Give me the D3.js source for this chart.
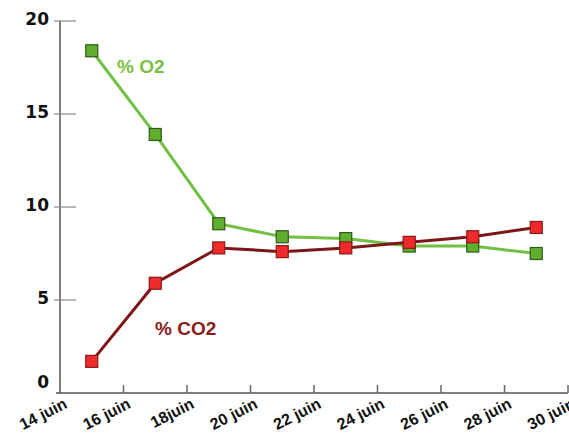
<!DOCTYPE html>
<html><head><meta charset="utf-8">
<script src="https://cdn.jsdelivr.net/npm/d3@7"></script>
<style>body{margin:0;background:#fff}svg{display:block}</style>
</head><body><svg id="c" width="569" height="438"></svg>
<script>
const days = [15,17,19,21,23,25,27,29];
const o2 = [18.4,13.9,9.1,8.4,8.3,7.9,7.9,7.5];
const co2 = [1.7,5.9,7.8,7.6,7.8,8.1,8.4,8.9];
const xTicks = [14,16,18,20,22,24,26,28,30];
const xTickLabels = ["14 juin","16 juin","18juin","20 juin","22 juin","24 juin","26 juin","28 juin","30 juin"];
const yTicks = [0,5,10,15,20];

const svg = d3.select("#c");
const x = d3.scaleLinear().domain([14,30]).range([60,568]);
const y = d3.scaleLinear().domain([0,20]).range([393,21]);
const font = "'DejaVu Sans', sans-serif";
const fontN = "'Liberation Sans', Arial, sans-serif";

// axes lines
svg.append("line").attr("x1",60).attr("x2",60).attr("y1",21).attr("y2",393).attr("stroke","#555").attr("stroke-width",1.5);
svg.append("line").attr("x1",56).attr("x2",568).attr("y1",393).attr("y2",393).attr("stroke","#555").attr("stroke-width",1.5);

// y ticks
const yg = svg.append("g");
yTicks.filter(d=>d>0).forEach(d=>{
  yg.append("line").attr("x1",54).attr("x2",76).attr("y1",y(d)).attr("y2",y(d)).attr("stroke","#888").attr("stroke-width",1.2);
});
yTicks.forEach(d=>{
  yg.append("text").attr("x",49).attr("y",y(d)+(d===0?-5:4)).attr("text-anchor","end")
    .attr("font-family",font).attr("font-weight","bold").attr("font-size",17).attr("fill","#111").text(d);
});

// x ticks
const xg = svg.append("g");
xTicks.slice(1).forEach(d=>{
  xg.append("line").attr("x1",x(d)).attr("x2",x(d)).attr("y1",385).attr("y2",393).attr("stroke","#666").attr("stroke-width",1.5);
});
xTicks.forEach((d,i)=>{
  xg.append("text").attr("transform",`translate(${x(d)+3},${397}) rotate(-27)`).attr("text-anchor","end")
    .attr("dy","0.72em")
    .attr("font-family",fontN).attr("font-weight","bold").attr("font-size",16).attr("fill","#111").text(xTickLabels[i]);
});

const line = d3.line().x((d,i)=>x(days[i])).y(d=>y(d));

function series(vals, lineColor, fill, stroke){
  svg.append("path").attr("d",line(vals)).attr("fill","none").attr("stroke",lineColor).attr("stroke-width",3);
  svg.selectAll(null).data(vals).enter().append("rect")
    .attr("x",(d,i)=>x(days[i])-6).attr("y",d=>y(d)-6).attr("width",12).attr("height",12)
    .attr("fill",fill).attr("stroke",stroke).attr("stroke-width",1.2);
}
series(o2,"#72c043","#5fae2e","#2e5a18");
series(co2,"#7d1616","#ee2a2a","#8a1a1a");

svg.append("text").attr("x",117).attr("y",73).attr("font-family",fontN).attr("font-weight","bold").attr("font-size",19).attr("fill","#7ac143").text("% O2");
svg.append("text").attr("x",155).attr("y",335).attr("font-family",fontN).attr("font-weight","bold").attr("font-size",19).attr("fill","#8b1a1a").text("% CO2");
</script></body></html>
